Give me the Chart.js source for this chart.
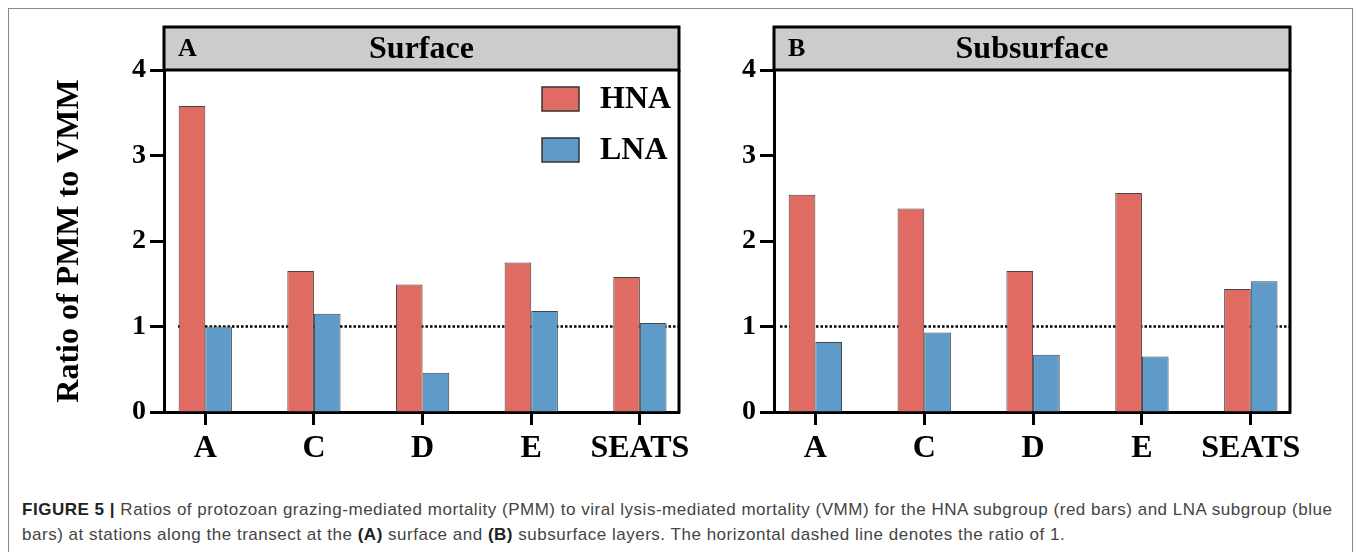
<!DOCTYPE html>
<html>
<head>
<meta charset="utf-8">
<title>Figure 5</title>
<script src="https://cdn.jsdelivr.net/npm/chart.js@4.4.1/dist/chart.umd.min.js"></script>
<style>
  body { margin: 0; background: #fff; width: 1357px; height: 552px; overflow: hidden; position: relative; }
  #frame { position: absolute; left: 8px; top: 8px; width: 1343px; height: 600px; border: 1px solid #8a8a8a; }
  .panel { position: absolute; top: 0; height: 475px; }
  #panelA { left: 0; width: 690px; }
  #panelB { left: 690px; width: 667px; }
  #caption { position: absolute; left: 22px; top: 497px; font-family: "Liberation Sans", Arial, sans-serif;
             font-size: 17px; letter-spacing: 0.52px; line-height: 25px; color: #444; white-space: nowrap; }
  #caption b { color: #222; }
</style>
</head>
<body>
<div id="frame"></div>
<div class="panel" id="panelA"><canvas id="chartA"></canvas></div>
<div class="panel" id="panelB"><canvas id="chartB"></canvas></div>
<div id="caption"><b>FIGURE 5 |</b> Ratios of protozoan grazing-mediated mortality (PMM) to viral lysis-mediated mortality (VMM) for the HNA subgroup (red bars) and LNA subgroup (blue<br>bars) at stations along the transect at the <b>(A)</b> surface and <b>(B)</b> subsurface layers. The horizontal dashed line denotes the ratio of 1.</div>

<script>
// data
const stations = ["A", "C", "D", "E", "SEATS"];
const hnaSurface = [3.58, 1.65, 1.49, 1.75, 1.58];
const lnaSurface = [1.00, 1.15, 0.46, 1.18, 1.04];
const hnaSubsurface = [2.54, 2.38, 1.65, 2.56, 1.44];
const lnaSubsurface = [0.82, 0.93, 0.67, 0.65, 1.53];
const yTickValues = [0, 1, 2, 3, 4];
const refRatio = 1;

const serif = "'Liberation Serif', 'Times New Roman', serif";
const hnaColor = "#e06b63";
const lnaColor = "#5e9bc8";

// header bar, right frame line, dotted ratio line and legend
const panelDecor = {
    id: "panelDecor",
    beforeDatasetsDraw(chart, args, opts) {
        const { ctx, chartArea } = chart;
        const y = chart.scales.y.getPixelForValue(refRatio);
        ctx.save();
        ctx.strokeStyle = "#000";
        ctx.lineWidth = 2.5;
        ctx.setLineDash([2.5, 2]);
        ctx.beginPath();
        ctx.moveTo(chartArea.left + opts.dotStart, y);
        ctx.lineTo(chartArea.right, y);
        ctx.stroke();
        ctx.restore();
    },
    afterDraw(chart, args, opts) {
        const { ctx, chartArea } = chart;
        const { left, right, top, bottom } = chartArea;
        ctx.save();
        // right frame
        ctx.strokeStyle = "#000";
        ctx.lineWidth = 3;
        ctx.beginPath();
        ctx.moveTo(right, top);
        ctx.lineTo(right, bottom + 1.5);
        ctx.stroke();
        // header
        let h = 43;
        ctx.fillStyle = "#cccccc";
        ctx.fillRect(left, top - h, right - left, h);
        ctx.strokeRect(left, top - h, right - left, h);
        ctx.fillStyle = "#000";
        ctx.textBaseline = "middle";
        ctx.font = "bold 26px " + serif;
        ctx.textAlign = "left";
        ctx.fillText(opts.letter, left + 14, top - h / 2 + 1);
        ctx.font = "bold 32px " + serif;
        ctx.textAlign = "center";
        ctx.fillText(opts.title, (left + right) / 2, top - h / 2 + 1);
        // legend
        if (opts.legend) {
            chart.data.datasets.forEach((ds, i) => {
                let by = top + 17 + i * 51;
                ctx.fillStyle = ds.backgroundColor;
                ctx.fillRect(right - 137, by, 37, 24);
                ctx.lineWidth = 1.5;
                ctx.strokeStyle = "#333";
                ctx.strokeRect(right - 137, by, 37, 24);
                ctx.fillStyle = "#000";
                ctx.textAlign = "left";
                ctx.font = "bold 32px " + serif;
                ctx.fillText(ds.label, right - 79, by + 13);
            });
        }
        ctx.restore();
    }
};

function makeChart(id, hna, lna, cfg) {
    let ctx = document.getElementById(id).getContext("2d");
    return new Chart(ctx, {
        type: "bar",
        data: {
            datasets: [{
                label: "HNA",
                data: hna.map((v, i) => ({ x: i, y: v })),
                backgroundColor: hnaColor,
                borderColor: "#444",
                borderWidth: 1
            }, {
                label: "LNA",
                data: lna.map((v, i) => ({ x: i, y: v })),
                backgroundColor: lnaColor,
                borderColor: "#444",
                borderWidth: 1
            }]
        },
        options: {
            responsive: true,
            maintainAspectRatio: false,
            animation: false,
            categoryPercentage: 0.49,
            barPercentage: 1,
            layout: { padding: { top: 70, right: cfg.rightPad, left: 0, bottom: 0 } },
            plugins: {
                legend: { display: false },
                tooltip: { enabled: false },
                panelDecor: { letter: cfg.letter, title: cfg.title, legend: cfg.legend, dotStart: cfg.dotStart }
            },
            scales: {
                x: {
                    type: "linear",
                    min: -0.38,
                    max: 4.36,
                    offset: false,
                    z: 1,
                    afterBuildTicks: scale => { scale.ticks = stations.map((s, i) => ({ value: i })); },
                    afterFit: scale => {
                        scale.height = 63;
                        scale.paddingLeft = 0;
                        scale.paddingRight = 0;
                    },
                    ticks: {
                        autoSkip: false,
                        maxRotation: 0,
                        padding: 5,
                        color: "#000",
                        font: { family: serif, size: 32, weight: "bold" },
                        callback: v => stations[v]
                    },
                    grid: { offset: false, drawOnChartArea: false, drawTicks: true, tickLength: 13, tickWidth: 3, tickColor: "#000" },
                    border: { display: true, width: 3, color: "#000" }
                },
                y: {
                    min: 0,
                    max: 4,
                    z: 1,
                    afterBuildTicks: scale => { scale.ticks = yTickValues.map(v => ({ value: v })); },
                    afterFit: scale => {
                        scale.width = cfg.leftWidth;
                        scale.paddingTop = 0;
                        scale.paddingBottom = 0;
                    },
                    ticks: {
                        padding: 4,
                        color: "#000",
                        font: { family: serif, size: 28, weight: "bold" }
                    },
                    grid: { drawOnChartArea: false, drawTicks: true, tickLength: 14, tickWidth: 3, tickColor: "#000" },
                    border: { display: true, width: 3, color: "#000" },
                    title: {
                        display: !!cfg.yTitle,
                        text: cfg.yTitle || "",
                        color: "#000",
                        font: { family: serif, size: 32, weight: "bold" },
                        padding: { top: 51, bottom: 0 }
                    }
                }
            }
        },
        plugins: [panelDecor]
    });
}

makeChart("chartA", hnaSurface, lnaSurface, {
    letter: "A", title: "Surface", legend: true, yTitle: "Ratio of PMM to VMM",
    leftWidth: 164, rightPad: 11, dotStart: 14
});
makeChart("chartB", hnaSubsurface, lnaSubsurface, {
    letter: "B", title: "Subsurface", legend: false,
    leftWidth: 84, rightPad: 67, dotStart: 6
});
</script>
</body>
</html>
